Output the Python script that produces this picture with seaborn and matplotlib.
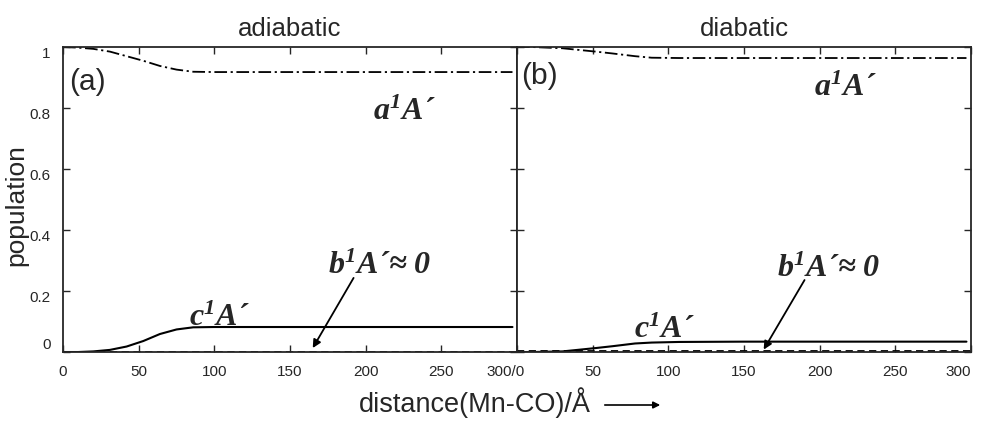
import numpy as np
import pandas as pd
import matplotlib
matplotlib.use("Agg")
import matplotlib.pyplot as plt
import seaborn as sns

# values
dist_adia = [0, 10, 20, 31, 42, 53, 64, 75, 86, 100, 150, 200, 250, 297]
a_adia = [1.0, 0.998, 0.994, 0.985, 0.970, 0.955, 0.938, 0.926, 0.919, 0.918, 0.918, 0.918, 0.918, 0.918]
c_adia = [0.0, 0.0, 0.002, 0.007, 0.018, 0.036, 0.059, 0.074, 0.081, 0.082, 0.082, 0.082, 0.082, 0.082]

dist_dia = [0, 10, 30, 52, 63, 78, 89, 107, 150, 200, 250, 297]
a_dia = [1.0, 1.0, 0.996, 0.985, 0.979, 0.970, 0.965, 0.964, 0.964, 0.964, 0.964, 0.964]
c_dia = [0.0, 0.0, 0.002, 0.013, 0.019, 0.028, 0.031, 0.033, 0.034, 0.034, 0.034, 0.034]

dist_full = [0, 300]
b_adia = [0.001, 0.001]
b_dia = [0.004, 0.004]

xticks = [0, 50, 100, 150, 200, 250, 300]
xlabels_a = ["0", "50", "100", "150", "200", "250", ""]
xlabels_b = ["", "50", "100", "150", "200", "250", "300"]
yticks = [0, 0.2, 0.4, 0.6, 0.8, 1.0]
ylabels = ["0", "0.2", "0.4", "0.6", "0.8", "1"]

sns.set_style("ticks")
plt.rcParams["font.family"] = ["Liberation Sans", "DejaVu Sans"]
plt.rcParams["mathtext.fontset"] = "custom"
plt.rcParams["mathtext.it"] = "Liberation Serif:bold:italic"
plt.rcParams["mathtext.rm"] = "Liberation Serif:bold:italic"
plt.rcParams["mathtext.bf"] = "Liberation Serif:bold:italic"

fig = plt.figure(figsize=(9.82, 4.38), dpi=100)
ax_a = fig.add_axes([0.0642, 0.1963, 0.4623, 0.6963])
ax_b = fig.add_axes([0.5265, 0.1963, 0.4623, 0.6963])

dashdot = (0, (7, 2, 1.2, 2))
dashed = (0, (4, 2.5))

panels = [
    (ax_a, dist_adia, a_adia, c_adia, b_adia, "adiabatic", xlabels_a),
    (ax_b, dist_dia, a_dia, c_dia, b_dia, "diabatic", xlabels_b),
]

for ax, dist, a_pop, c_pop, b_pop, title, xl in panels:
    df = pd.DataFrame({"distance": dist, "a": a_pop, "c": c_pop})
    sns.lineplot(data=df, x="distance", y="a", ax=ax, color="k", linewidth=1.3, linestyle=dashdot)
    sns.lineplot(data=df, x="distance", y="c", ax=ax, color="k", linewidth=1.5)
    sns.lineplot(x=dist_full, y=b_pop, ax=ax, color="k", linewidth=1.3, linestyle=dashed)
    ax.set_xlim(0, 300)
    ax.set_ylim(0, 1.0)
    ax.set_xticks(xticks)
    ax.set_xticklabels(xl, fontsize=11)
    ax.set_yticks(yticks)
    ax.set_xlabel("")
    ax.set_ylabel("")
    ax.tick_params(direction="in", top=True, right=True, length=5, width=1, pad=9)
    for s in ax.spines.values():
        s.set_linewidth(1.3)
    ax.set_title(title, fontsize=18.5, pad=8)

ax_a.set_yticklabels(ylabels, fontsize=11)
for lbl in ax_a.get_yticklabels():
    lbl.set_verticalalignment("bottom" if lbl.get_text() == "0" else "top")
ax_b.set_yticklabels([])
ax_b.get_xticklabels()[-1].set_horizontalalignment("right")

# joined tick label where the two panels meet
ax_a.annotate("300/0", xy=(300, 0), xycoords=("data", "axes fraction"),
              xytext=(-8, -9), textcoords="offset points", ha="center", va="top", fontsize=11)

fig.text(16 / 982, 1 - 205 / 438, "population", fontsize=19, rotation=90, ha="center", va="center")

# panel tags
ax_a.text(4, 0.885, "(a)", fontsize=21.5, va="center", ha="left")
ax_b.text(3, 0.905, "(b)", fontsize=21.5, va="center", ha="left")

# state labels
lab_a = "a$^{1}$A´"
lab_c = "c$^{1}$A´"
lab_b = "b$^{1}$A´≈ 0"

def state_label(ax, x, y, s):
    ax.text(x, y, s, fontsize=23, va="center", ha="left",
            family=["Liberation Serif", "DejaVu Serif"], weight="bold", style="italic")

state_label(ax_a, 205, 0.785, lab_a)
state_label(ax_b, 196, 0.865, lab_a)
state_label(ax_a, 83, 0.11, lab_c)
state_label(ax_b, 77, 0.07, lab_c)
state_label(ax_a, 175, 0.28, lab_b)
state_label(ax_b, 172, 0.27, lab_b)

arrow = dict(arrowstyle="-|>", color="k", lw=1.3, mutation_scale=12, shrinkA=0, shrinkB=0)
ax_a.annotate("", xy=(165, 0.013), xytext=(192, 0.243), arrowprops=arrow)
ax_b.annotate("", xy=(163, 0.008), xytext=(190, 0.236), arrowprops=arrow)

# common x label with arrow
fig.text(475 / 982, 1 - 403 / 438, "distance(Mn-CO)/Å", fontsize=19.5, ha="center", va="center")
fig.add_artist(matplotlib.patches.FancyArrowPatch(
    (602 / 982, 1 - 405 / 438), (663 / 982, 1 - 405 / 438),
    transform=fig.transFigure, arrowstyle="-|>", mutation_scale=10, color="k", lw=1.2))

fig.savefig("out.png", dpi=100)
